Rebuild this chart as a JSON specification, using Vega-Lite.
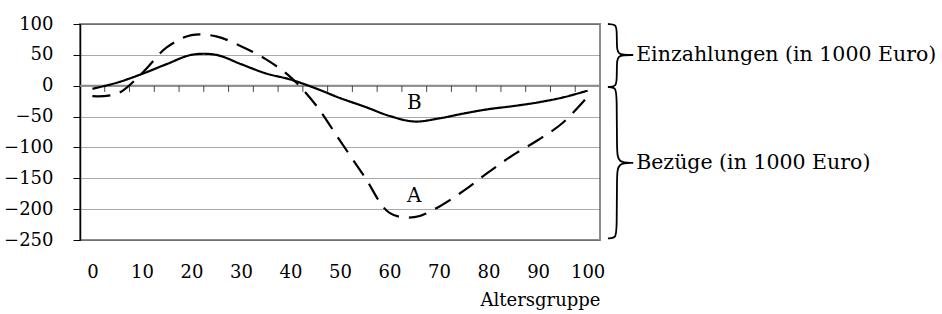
{
  "$schema": "https://vega.github.io/schema/vega-lite/v6.json",
  "width": 520,
  "height": 216,
  "autosize": {"type": "none"},
  "padding": {"left": 80, "top": 24, "right": 342, "bottom": 74},
  "config": {
    "font": "DejaVu Serif",
    "view": {"stroke": "#8c8c8c", "strokeWidth": 2},
    "axis": {"labelColor": "#000", "titleColor": "#000", "labelOverlap": false, "labelFontSize": 18, "titleFontSize": 18, "titleFontWeight": "normal"},
    "axisY": {
      "domainColor": "#000",
      "domainWidth": 1.5,
      "tickColor": "#000",
      "tickSize": 7,
      "labelPadding": 20,
      "grid": true,
      "gridDash": [1, 1],
      "gridColor": "#555",
      "gridWidth": 1
    },
    "axisX": {
      "domain": false,
      "ticks": false,
      "grid": false,
      "labelPadding": 23,
      "titleAnchor": "end",
      "titleAlign": "right",
      "titlePadding": 10
    }
  },
  "datasets": {
    "curves": [
      {"age": 0, "series": "A", "value": -17},
      {"age": 5, "series": "A", "value": -13},
      {"age": 10, "series": "A", "value": 20},
      {"age": 15, "series": "A", "value": 62},
      {"age": 20, "series": "A", "value": 82},
      {"age": 25, "series": "A", "value": 80},
      {"age": 30, "series": "A", "value": 64},
      {"age": 35, "series": "A", "value": 43},
      {"age": 40, "series": "A", "value": 14},
      {"age": 45, "series": "A", "value": -30},
      {"age": 50, "series": "A", "value": -89},
      {"age": 55, "series": "A", "value": -148},
      {"age": 60, "series": "A", "value": -206},
      {"age": 65, "series": "A", "value": -213},
      {"age": 70, "series": "A", "value": -196},
      {"age": 75, "series": "A", "value": -170},
      {"age": 80, "series": "A", "value": -140},
      {"age": 85, "series": "A", "value": -112},
      {"age": 90, "series": "A", "value": -88},
      {"age": 95, "series": "A", "value": -60},
      {"age": 100, "series": "A", "value": -18},
      {"age": 0, "series": "B", "value": -5},
      {"age": 5, "series": "B", "value": 5},
      {"age": 10, "series": "B", "value": 19},
      {"age": 15, "series": "B", "value": 35},
      {"age": 20, "series": "B", "value": 50},
      {"age": 25, "series": "B", "value": 50},
      {"age": 30, "series": "B", "value": 35},
      {"age": 35, "series": "B", "value": 20},
      {"age": 40, "series": "B", "value": 10},
      {"age": 45, "series": "B", "value": -4},
      {"age": 50, "series": "B", "value": -20},
      {"age": 55, "series": "B", "value": -34},
      {"age": 60, "series": "B", "value": -49},
      {"age": 65, "series": "B", "value": -58},
      {"age": 70, "series": "B", "value": -53},
      {"age": 75, "series": "B", "value": -45},
      {"age": 80, "series": "B", "value": -38},
      {"age": 85, "series": "B", "value": -33},
      {"age": 90, "series": "B", "value": -27},
      {"age": 95, "series": "B", "value": -19},
      {"age": 100, "series": "B", "value": -8}
    ],
    "bounds": [
      {"age": 2.5}, {"age": 7.5}, {"age": 12.5}, {"age": 17.5}, {"age": 22.5},
      {"age": 27.5}, {"age": 32.5}, {"age": 37.5}, {"age": 42.5}, {"age": 47.5},
      {"age": 52.5}, {"age": 57.5}, {"age": 62.5}, {"age": 67.5}, {"age": 72.5},
      {"age": 77.5}, {"age": 82.5}, {"age": 87.5}, {"age": 92.5}, {"age": 97.5}
    ],
    "braces": [
      {"brace": "top", "i": 1, "age": 104.1, "value": 100},
      {"brace": "top", "i": 2, "age": 105.7, "value": 99.5},
      {"brace": "top", "i": 3, "age": 105.9, "value": 90},
      {"brace": "top", "i": 4, "age": 105.9, "value": 61},
      {"brace": "top", "i": 5, "age": 106.1, "value": 49.8},
      {"brace": "top", "i": 6, "age": 109.2, "value": 49.8},
      {"brace": "top", "i": 7, "age": 109.2, "value": 49.8},
      {"brace": "top", "i": 8, "age": 109.2, "value": 49.8},
      {"brace": "top", "i": 9, "age": 106.1, "value": 49.8},
      {"brace": "top", "i": 10, "age": 105.9, "value": 38.5},
      {"brace": "top", "i": 11, "age": 105.9, "value": 9},
      {"brace": "top", "i": 12, "age": 105.7, "value": -1.5},
      {"brace": "top", "i": 13, "age": 104.1, "value": -2},
      {"brace": "bottom", "i": 1, "age": 104.1, "value": -2},
      {"brace": "bottom", "i": 2, "age": 105.7, "value": -2.5},
      {"brace": "bottom", "i": 3, "age": 105.9, "value": -17},
      {"brace": "bottom", "i": 4, "age": 105.9, "value": -104},
      {"brace": "bottom", "i": 5, "age": 106.1, "value": -125},
      {"brace": "bottom", "i": 6, "age": 109.2, "value": -125},
      {"brace": "bottom", "i": 7, "age": 109.2, "value": -125},
      {"brace": "bottom", "i": 8, "age": 109.2, "value": -125},
      {"brace": "bottom", "i": 9, "age": 106.1, "value": -125},
      {"brace": "bottom", "i": 10, "age": 105.9, "value": -146},
      {"brace": "bottom", "i": 11, "age": 105.9, "value": -233},
      {"brace": "bottom", "i": 12, "age": 105.7, "value": -247},
      {"brace": "bottom", "i": 13, "age": 104.1, "value": -247.5}
    ],
    "curveLabels": [
      {"age": 65, "value": -28, "label": "B"},
      {"age": 65, "value": -178, "label": "A"}
    ],
    "sideLabels": [
      {"age": 109.8, "value": 50, "label": "Einzahlungen (in 1000 Euro)"},
      {"age": 109.8, "value": -125, "label": "Bezüge (in 1000 Euro)"}
    ]
  },
  "layer": [
    {
      "data": {"values": [{"value": 0}]},
      "mark": {"type": "rule", "color": "#8c8c8c", "strokeWidth": 2},
      "encoding": {
        "y": {"field": "value", "type": "quantitative", "scale": {"domain": [-250, 100], "nice": false, "zero": false},
          "axis": {"values": [100, 50, 0, -50, -100, -150, -200, -250], "title": null}}
      }
    },
    {
      "data": {"name": "bounds"},
      "mark": {"type": "rule", "color": "#444", "strokeWidth": 1},
      "encoding": {
        "x": {"field": "age", "type": "quantitative", "scale": {"domain": [-2.5, 102.5], "nice": false, "zero": false},
          "axis": {"values": [0, 10, 20, 30, 40, 50, 60, 70, 80, 90, 100], "title": "Altersgruppe"}},
        "y": {"datum": 0, "type": "quantitative",
          "axis": {"values": [100, 50, 0, -50, -100, -150, -200, -250], "title": null}},
        "y2": {"datum": -10}
      }
    },
    {
      "data": {"name": "curves"},
      "mark": {"type": "line", "color": "#000", "strokeWidth": 2.2, "interpolate": "catmull-rom"},
      "encoding": {
        "x": {"field": "age", "type": "quantitative",
          "axis": {"values": [0, 10, 20, 30, 40, 50, 60, 70, 80, 90, 100], "title": "Altersgruppe"}},
        "y": {"field": "value", "type": "quantitative",
          "axis": {"values": [100, 50, 0, -50, -100, -150, -200, -250], "title": null}},
        "detail": {"field": "series"},
        "strokeDash": {"field": "series", "type": "nominal", "scale": {"domain": ["A", "B"], "range": [[18, 10], [1, 0]]}, "legend": null}
      }
    },
    {
      "data": {"name": "curveLabels"},
      "mark": {"type": "text", "fontSize": 20, "color": "#000", "align": "center", "baseline": "middle"},
      "encoding": {
        "x": {"field": "age", "type": "quantitative",
          "axis": {"values": [0, 10, 20, 30, 40, 50, 60, 70, 80, 90, 100], "title": "Altersgruppe"}},
        "y": {"field": "value", "type": "quantitative",
          "axis": {"values": [100, 50, 0, -50, -100, -150, -200, -250], "title": null}},
        "text": {"field": "label"}
      }
    },
    {
      "data": {"name": "braces"},
      "mark": {"type": "line", "color": "#000", "strokeWidth": 1.8, "interpolate": "basis", "clip": false},
      "encoding": {
        "x": {"field": "age", "type": "quantitative",
          "axis": {"values": [0, 10, 20, 30, 40, 50, 60, 70, 80, 90, 100], "title": "Altersgruppe"}},
        "y": {"field": "value", "type": "quantitative",
          "axis": {"values": [100, 50, 0, -50, -100, -150, -200, -250], "title": null}},
        "detail": {"field": "brace"},
        "order": {"field": "i", "type": "quantitative"}
      }
    },
    {
      "data": {"name": "sideLabels"},
      "mark": {"type": "text", "fontSize": 20.5, "color": "#000", "align": "left", "baseline": "middle"},
      "encoding": {
        "x": {"field": "age", "type": "quantitative",
          "axis": {"values": [0, 10, 20, 30, 40, 50, 60, 70, 80, 90, 100], "title": "Altersgruppe"}},
        "y": {"field": "value", "type": "quantitative",
          "axis": {"values": [100, 50, 0, -50, -100, -150, -200, -250], "title": null}},
        "text": {"field": "label"}
      }
    }
  ]
}
